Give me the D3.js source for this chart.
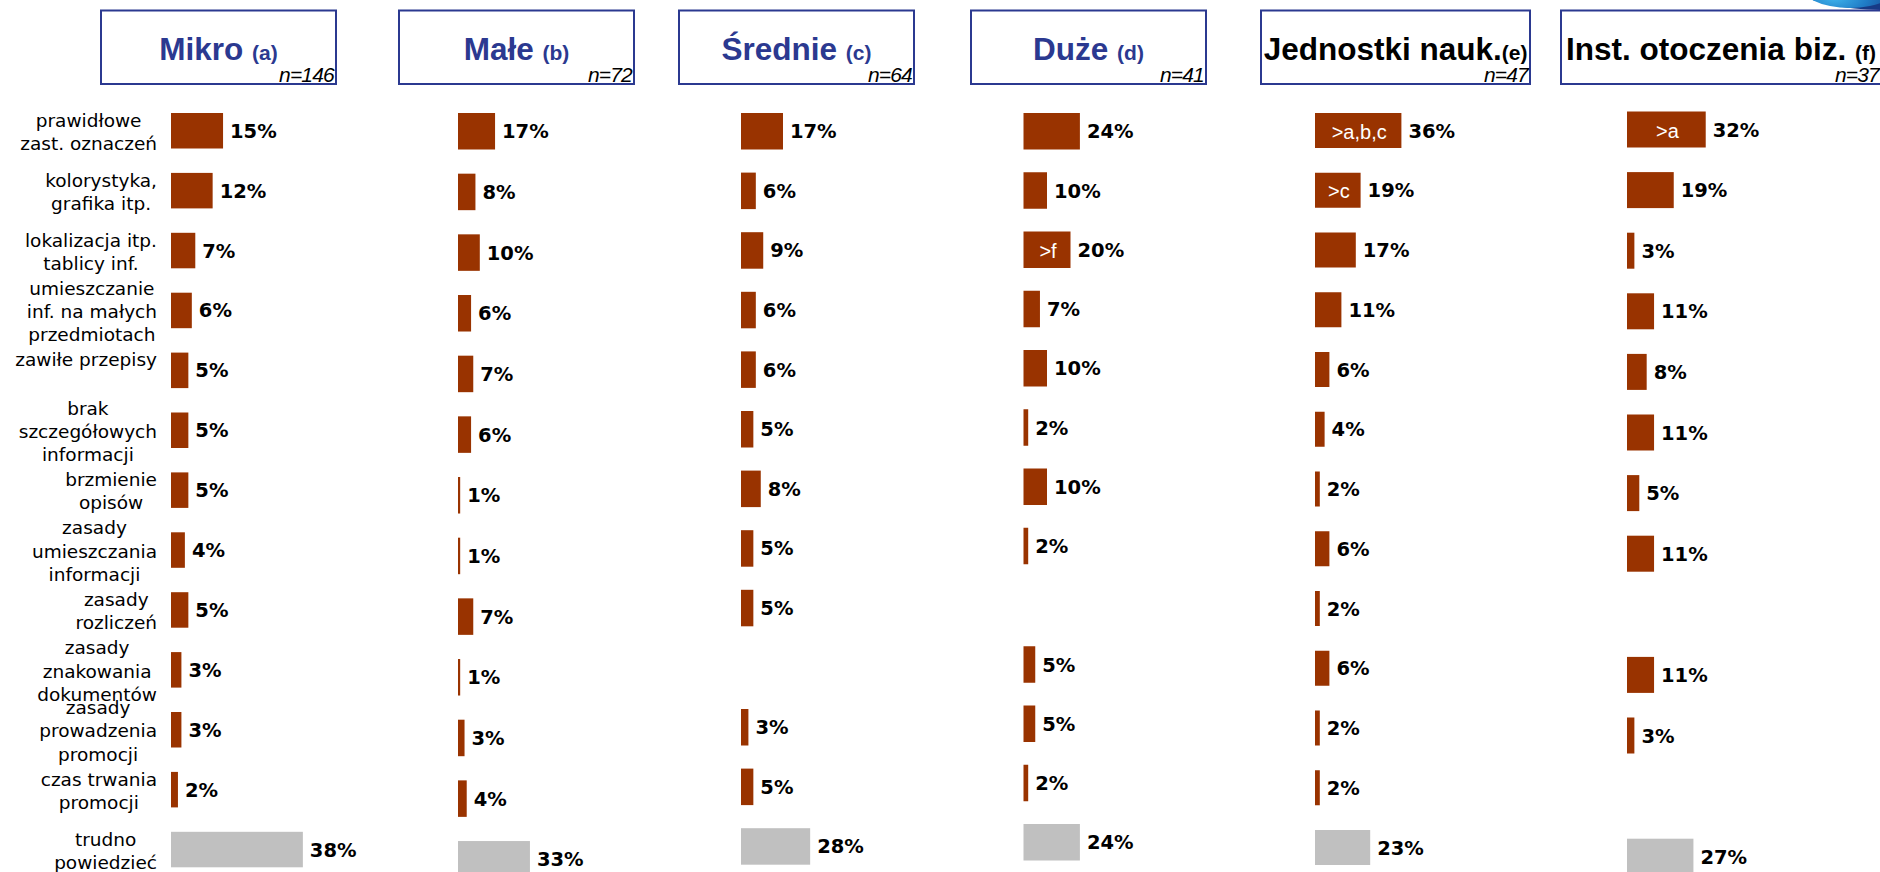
<!DOCTYPE html>
<html>
<head>
<meta charset="utf-8">
<script src="https://cdn.jsdelivr.net/npm/d3@7"></script>
<style>
  body { margin: 0; background: #fff; }
  svg { display: block; }
</style>
</head>
<body>
<div id="chart"></div>
<script>
// categories (row labels), one line per array item
var categories = [
	["prawidłowe", "zast. oznaczeń"],
	["kolorystyka,", "grafika itp."],
	["lokalizacja itp.", "tablicy inf."],
	["umieszczanie", "inf. na małych", "przedmiotach"],
	["zawiłe przepisy", ""],
	["brak", "szczegółowych", "informacji"],
	["brzmienie", "opisów"],
	["zasady", "umieszczania", "informacji"],
	["zasady", "rozliczeń"],
	["zasady", "znakowania", "dokumentów"],
	["zasady", "prowadzenia", "promocji"],
	["czas trwania", "promocji"],
	["trudno", "powiedzieć"]
];

var panelNames = ["Mikro ", "Małe ", "Średnie ", "Duże ", "Jednostki nauk.", "Inst. otoczenia biz. "];
var panelCodes = ["(a)", "(b)", "(c)", "(d)", "(e)", "(f)"];
var sampleSizes = [146, 72, 64, 41, 47, 37];

// values in %, null = no answer shown
var mikro     = [15, 12, 7, 6, 5, 5, 5, 4, 5, 3, 3, 2, 38];
var male      = [17, 8, 10, 6, 7, 6, 1, 1, 7, 1, 3, 4, 33];
var srednie   = [17, 6, 9, 6, 6, 5, 8, 5, 5, null, 3, 5, 28];
var duze      = [24, 10, 20, 7, 10, 2, 10, 2, null, 5, 5, 2, 24];
var jednostki = [36, 19, 17, 11, 6, 4, 2, 6, 2, 6, 2, 2, 23];
var inst      = [32, 19, 3, 11, 8, 11, 5, 11, null, 11, 3, null, 27];

// significance marks written inside bars
var marks = [
	{panel: 4, row: 0, text: ">a,b,c"},
	{panel: 4, row: 1, text: ">c"},
	{panel: 5, row: 0, text: ">a"},
	{panel: 3, row: 2, text: ">f"}
];

var series = [mikro, male, srednie, duze, jednostki, inst];

// layout of each small chart (pasted slide, so every panel is a bit different)
var layout = [
	{x0: 171,    k: 3.47, top: 113,   step: 59.9,  h: 35.5, box: [100, 337],  blue: true},
	{x0: 458,    k: 2.18, top: 113,   step: 60.67, h: 36.5, box: [398, 635],  blue: true},
	{x0: 741,    k: 2.47, top: 113,   step: 59.6,  h: 36.5, box: [678, 915],  blue: true},
	{x0: 1023.5, k: 2.35, top: 113,   step: 59.25, h: 36.5, box: [970, 1207], blue: true},
	{x0: 1315,   k: 2.4,  top: 113,   step: 59.75, h: 35,   box: [1260, 1531], blue: false},
	{x0: 1627,   k: 2.46, top: 111.5, step: 60.6,  h: 36,   box: [1560, 1882], blue: false}
];

var width = 1880;
var height = 872;
var blue = "#2b3990";
var brown = "#993300";
var grey = "#c0c0c0";
var labelFont = "'DejaVu Sans', Verdana, sans-serif";
var titleFont = "'Liberation Sans', Arial, sans-serif";

var svg = d3.select("#chart")
			.append("svg")
			.attr("width", width)
			.attr("height", height);

// decoration peeking in at the top right corner
var defs = svg.append("defs");
var grad = defs.append("radialGradient").attr("id", "globe")
			.attr("cx", "35%").attr("cy", "80%").attr("r", "70%");
grad.append("stop").attr("offset", "0%").attr("stop-color", "#3fb4ec");
grad.append("stop").attr("offset", "45%").attr("stop-color", "#1f7cc6");
grad.append("stop").attr("offset", "100%").attr("stop-color", "#16357f");
defs.append("clipPath").attr("id", "topclip")
	.append("rect").attr("x", 0).attr("y", 0).attr("width", width).attr("height", 10);
var deco = svg.append("g").attr("clip-path", "url(#topclip)");
deco.append("ellipse")
	.attr("cx", 1880).attr("cy", -62).attr("rx", 132).attr("ry", 72)
	.attr("fill", "#173a86");
deco.append("ellipse")
	.attr("cx", 1850).attr("cy", -18).attr("rx", 52).attr("ry", 26)
	.attr("fill", "url(#globe)");

// row labels, shared by all panels (aligned to the first one)
var rowLayout = layout[0];
var yRows = d3.scaleBand()
			.domain(d3.range(categories.length))
			.range([rowLayout.top, rowLayout.top + rowLayout.step * (categories.length - (1 - rowLayout.h / rowLayout.step))])
			.paddingInner(1 - rowLayout.h / rowLayout.step)
			.paddingOuter(0);

var labelRight = 157;
var lineH = 23.3;
var rowLabel = svg.append("g").selectAll("g.rowlabel")
			.data(categories)
			.enter()
				.append("g").attr("class", "rowlabel");

rowLabel.each(function(lines, i) {
	var g = d3.select(this);
	var cy = yRows(i) + yRows.bandwidth() / 2 + 1;
	var texts = g.selectAll("text")
			.data(lines)
			.enter()
				.append("text")
				.attr("y", function(d, j) { return cy + (j - (lines.length - 1) / 2) * lineH; })
				.attr("dy", "0.36em")
				.attr("text-anchor", "middle")
				.style("font-family", labelFont)
				.style("font-size", "18.5px")
				.style("fill", "#000")
				.text(function(d) { return d; });
	var maxW = 0;
	texts.each(function() { maxW = Math.max(maxW, this.getComputedTextLength()); });
	texts.attr("x", labelRight - maxW / 2);
});

// panels
layout.forEach(function(L, p) {
	var g = svg.append("g").attr("class", "panel");
	var values = series[p];

	var x = d3.scaleLinear().domain([0, 100]).range([L.x0, L.x0 + 100 * L.k]);
	var y = d3.scaleBand()
			.domain(d3.range(categories.length))
			.range([L.top, L.top + L.step * (categories.length - (1 - L.h / L.step))])
			.paddingInner(1 - L.h / L.step)
			.paddingOuter(0);

	// header box
	g.append("rect")
		.attr("x", L.box[0] + 1).attr("y", 10.5)
		.attr("width", L.box[1] - L.box[0] - 2).attr("height", 73.5)
		.attr("fill", "#fff")
		.attr("stroke", blue)
		.attr("stroke-width", 2);

	var title = g.append("text")
		.attr("x", (L.box[0] + L.box[1]) / 2)
		.attr("y", 60)
		.attr("text-anchor", "middle")
		.style("font-family", titleFont)
		.style("font-weight", "bold")
		.style("fill", L.blue ? blue : "#000");
	title.append("tspan").style("font-size", "31.5px").text(panelNames[p]);
	title.append("tspan").style("font-size", "21px").text(panelCodes[p]);

	g.append("text")
		.attr("x", L.box[1] - 3)
		.attr("y", 82)
		.attr("text-anchor", "end")
		.style("font-family", titleFont)
		.style("font-style", "italic")
		.style("font-size", "21px")
		.style("letter-spacing", "-0.8px")
		.style("fill", "#000")
		.text("n=" + sampleSizes[p]);

	var rows = values.map(function(v, i) { return {v: v, i: i}; })
			.filter(function(d) { return d.v !== null; });

	g.selectAll("rect.bar")
		.data(rows)
		.enter()
			.append("rect")
			.attr("class", "bar")
			.attr("x", x(0))
			.attr("y", function(d) { return y(d.i); })
			.attr("width", function(d) { return x(d.v) - x(0); })
			.attr("height", y.bandwidth())
			.attr("fill", function(d) { return d.i === categories.length - 1 ? grey : brown; });

	g.selectAll("text.val")
		.data(rows)
		.enter()
			.append("text")
			.attr("class", "val")
			.attr("x", function(d) { return x(d.v) + 7; })
			.attr("y", function(d) { return y(d.i) + y.bandwidth() / 2; })
			.attr("dy", "0.36em")
			.style("font-family", labelFont)
			.style("font-weight", "bold")
			.style("font-size", "19.5px")
			.style("fill", "#000")
			.text(function(d) { return d.v + "%"; });

	g.selectAll("text.mark")
		.data(marks.filter(function(m) { return m.panel === p; }))
		.enter()
			.append("text")
			.attr("class", "mark")
			.attr("x", function(m) { return (x(0) + x(values[m.row])) / 2 + 1; })
			.attr("y", function(m) { return y(m.row) + y.bandwidth() / 2 + 8; })
			.attr("text-anchor", "middle")
			.style("font-family", titleFont)
			.style("font-size", "20px")
			.style("fill", "#fff")
			.text(function(m) { return m.text; });
});
</script>
</body>
</html>
